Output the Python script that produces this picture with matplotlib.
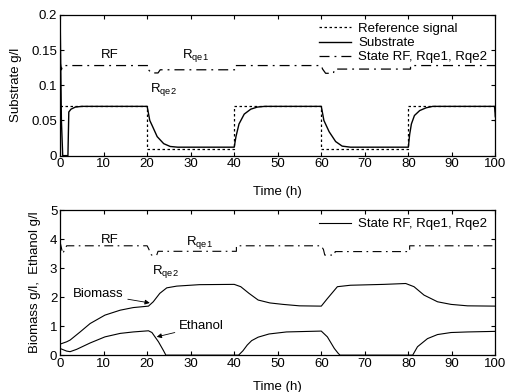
import matplotlib
matplotlib.use("Agg")
import matplotlib.pyplot as plt
from matplotlib.lines import Line2D

plt.rcParams['font.family'] = ['Liberation Sans', 'DejaVu Sans']
plt.rcParams['mathtext.fontset'] = 'custom'
plt.rcParams['mathtext.rm'] = 'Liberation Sans'
plt.rcParams['mathtext.it'] = 'Liberation Sans'
plt.rcParams['font.size'] = 9.5

# ---------------- Top panel data ----------------
ref_t = [0, 20, 20, 40, 40, 60, 60, 80, 80, 100, 100]
ref_y = [0.07, 0.07, 0.01, 0.01, 0.07, 0.07, 0.01, 0.01, 0.07, 0.07, 0.045]

sub_t = [0, 0.3, 0.6, 1.8, 2.0, 2.5, 3.5, 5,
         20, 20.6, 21.2, 22.3, 23.8, 25.3, 27, 40,
         40.4, 41.1, 42.3, 43.8, 45.3, 47, 60,
         60.6, 61.8, 63.3, 64.8, 66.7, 80,
         80.3, 80.7, 81.4, 82.6, 84.1, 85.6, 99.8, 100]
sub_y = [0.2, 0.05, 0.0, 0.0, 0.062, 0.066, 0.069, 0.07,
         0.07, 0.05, 0.042, 0.027, 0.017, 0.013, 0.012, 0.012,
         0.027, 0.045, 0.059, 0.066, 0.069, 0.07, 0.07,
         0.05, 0.034, 0.02, 0.0135, 0.012, 0.012,
         0.03, 0.045, 0.057, 0.064, 0.068, 0.07, 0.07, 0.055]

st1_t = [0, 0.3, 0.6, 20.3, 20.3, 21, 22.5, 23, 40.3, 40.3, 60, 60.3, 61, 62.8, 63, 80.5, 80.5, 100]
st1_y = [0.133, 0.122, 0.128, 0.128, 0.122, 0.1175, 0.1175, 0.122, 0.122, 0.128,
         0.128, 0.123, 0.117, 0.117, 0.123, 0.123, 0.128, 0.128]

# ---------------- Bottom panel data ----------------
st2_t = [0, 0.6, 1.5, 20, 20.3, 21, 22.2, 22.5, 40.5, 40.5, 60, 60.5, 60.8, 63, 63.2, 80.3, 80.3, 100]
st2_y = [3.9, 3.5, 3.77, 3.77, 3.68, 3.45, 3.45, 3.58, 3.58, 3.77,
         3.77, 3.64, 3.45, 3.45, 3.57, 3.57, 3.77, 3.77]

bio_t = [0, 1.5, 2.3, 4.6, 6.9, 10.3, 13.8, 16.8, 20.3, 21.4, 22.9, 24.5, 26.8, 32, 40,
         41.5, 43.4, 45.5, 48.2, 51.2, 55, 60, 61.4, 63.7, 66.7, 74.4, 79.4,
         81.3, 83.6, 86.7, 89.8, 93.6, 100]
bio_y = [0.38, 0.46, 0.52, 0.8, 1.09, 1.38, 1.55, 1.64, 1.69, 1.84, 2.13, 2.32, 2.38, 2.43, 2.44,
         2.36, 2.13, 1.9, 1.8, 1.75, 1.7, 1.69, 1.95, 2.36, 2.41, 2.44, 2.47,
         2.36, 2.07, 1.84, 1.75, 1.7, 1.69]

eth_t = [0, 1.5, 2.3, 3.8, 6.9, 10.3, 13.8, 16.8, 20.3, 21.1, 22.6, 23.7, 24.3, 41,
         42, 43, 44, 45.5, 48, 52, 60, 61.4, 63, 63.9, 64.3, 81,
         82.1, 84.4, 86.7, 89.8, 93.6, 100]
eth_y = [0.23, 0.14, 0.12, 0.2, 0.42, 0.63, 0.75, 0.8, 0.84, 0.78, 0.46, 0.17, 0.0, 0.0,
         0.15, 0.35, 0.5, 0.62, 0.73, 0.8, 0.83, 0.63, 0.23, 0.06, 0.0, 0.0,
         0.29, 0.57, 0.71, 0.78, 0.8, 0.82]

x_ticks = list(range(0, 101, 10))
top_yticks = [0, 0.05, 0.1, 0.15, 0.2]
top_ylabels = ['0', '0.05', '0.1', '0.15', '0.2']
bot_yticks = [0, 1, 2, 3, 4, 5]

dashdot = (0, (8, 4, 1.5, 4))

fig = plt.figure(figsize=(5.05, 3.92), dpi=100)
ax1 = fig.add_axes([0.119, 0.603, 0.862, 0.359])
ax2 = fig.add_axes([0.119, 0.094, 0.862, 0.370])

def style(ax):
    ax.tick_params(direction='in', top=True, right=True, length=3, width=0.8, labelsize=9.5, pad=2)
    for s in ax.spines.values():
        s.set_linewidth(0.9)
    ax.set_xlim(0, 100)
    ax.set_xticks(x_ticks)

# Top panel
ax1.plot(ref_t, ref_y, color='k', lw=0.9, linestyle=(0, (2, 2)), label='Reference signal')
ax1.plot(sub_t, sub_y, color='k', lw=1.0, label='Substrate')
ax1.plot(st1_t, st1_y, color='k', lw=0.9, linestyle=dashdot, label='State RF, Rqe1, Rqe2')
style(ax1)
ax1.set_ylim(0, 0.2)
ax1.set_yticks(top_yticks)
ax1.set_yticklabels(top_ylabels)
ax1.set_ylabel('Substrate g/l', labelpad=6.5)
ax1.set_xlabel('Time (h)', labelpad=11)
ax1.legend(loc='upper right', frameon=False, fontsize=9.5, handlelength=2.4,
           labelspacing=0.15, borderaxespad=0.2, handletextpad=0.6)
ax1.text(11.5, 0.143, 'RF', ha='center', va='center', fontsize=9.5)
ax1.text(27.9, 0.143, r'R$_{\rm qe1}$', ha='left', va='center', fontsize=9.5)
ax1.text(20.6, 0.094, r'R$_{\rm qe2}$', ha='left', va='center', fontsize=9.5)

# Bottom panel
ax2.plot(st2_t, st2_y, color='k', lw=0.8, linestyle=dashdot)
ax2.plot(bio_t, bio_y, color='k', lw=0.8)
ax2.plot(eth_t, eth_y, color='k', lw=0.8)
style(ax2)
ax2.set_ylim(0, 5)
ax2.set_yticks(bot_yticks)
ax2.set_ylabel('Biomass g/l,  Ethanol g/l', labelpad=6.5)
ax2.set_xlabel('Time (h)', labelpad=8)
ax2.legend(handles=[Line2D([], [], color='k', lw=0.8)], labels=['State RF, Rqe1, Rqe2'],
           loc='upper right', frameon=False, fontsize=9.5, handlelength=2.4,
           borderaxespad=0.2, handletextpad=0.6)
ax2.text(11.5, 3.97, 'RF', ha='center', va='center', fontsize=9.5)
ax2.text(29, 3.9, r'R$_{\rm qe1}$', ha='left', va='center', fontsize=9.5)
ax2.text(21, 2.87, r'R$_{\rm qe2}$', ha='left', va='center', fontsize=9.5)
arrow = dict(arrowstyle='-|>', lw=0.6, color='k', mutation_scale=7, shrinkA=1, shrinkB=0)
ax2.annotate('Biomass', xy=(20.6, 1.8), xytext=(14.6, 2.1), ha='right', va='center',
             fontsize=9.5, arrowprops=arrow)
ax2.annotate('Ethanol', xy=(22.2, 0.63), xytext=(27.3, 1.0), ha='left', va='center',
             fontsize=9.5, arrowprops=arrow)

fig.savefig('out.png', dpi=100)
